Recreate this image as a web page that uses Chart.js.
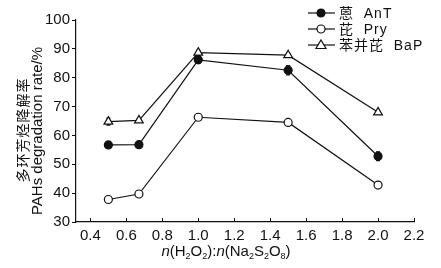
<!DOCTYPE html>
<html>
<head>
<meta charset="utf-8">
<script src="https://cdn.jsdelivr.net/npm/chart.js@4.4.1/dist/chart.umd.min.js"></script>
<style>
  html, body { margin: 0; padding: 0; background: #fff; }
  #wrap { position: relative; width: 441px; height: 268px; }
</style>
</head>
<body>
<div id="wrap"><canvas id="myChart"></canvas></div>
<script>
// n(H2O2):n(Na2S2O8) ratios
const ratios = [0.5, 0.67, 1.0, 1.5, 2.0];

// degradation rate (%)
const antValues = [56.7, 56.8, 86.2, 82.6, 52.8];
const pryValues = [37.8, 39.7, 66.3, 64.5, 42.8];
const bapValues = [64.8, 65.2, 88.7, 87.8, 68.0];

// error bar half-heights
const antErr = [0.8, 0.8, 1.2, 1.6, 1.5];
const pryErr = [0.5, 0.6, 0.6, 0.6, 0.5];
const bapErr = [1.2, 0.6, 0.8, 0.6, 0.6];

const seriesLabels = ["蒽 AnT", "芘 Pry", "苯并芘 BaP"];
const xTicks = [0.4, 0.6, 0.8, 1.0, 1.2, 1.4, 1.6, 1.8, 2.0, 2.2];
const yTicks = [30, 40, 50, 60, 70, 80, 90, 100];

const FONT = "'Liberation Sans', Arial, 'Noto Sans CJK SC', sans-serif";
const INK = "#111";

const toPoints = (vals) => ratios.map((x, i) => ({ x: x, y: vals[i] }));

const errors = [antErr, pryErr, bapErr];

// small vertical error bars
const errorBars = {
  id: "errorBars",
  beforeDatasetsDraw(chart) {
    const { ctx, scales } = chart;
    ctx.save();
    ctx.strokeStyle = INK;
    ctx.lineWidth = 1.2;
    chart.data.datasets.forEach((ds, di) => {
      ds.data.forEach((p, i) => {
        const e = errors[di][i];
        const x = scales.x.getPixelForValue(p.x);
        const y1 = scales.y.getPixelForValue(p.y - e);
        const y2 = scales.y.getPixelForValue(p.y + e);
        ctx.beginPath();
        ctx.moveTo(x, y1); ctx.lineTo(x, y2);
        ctx.moveTo(x - 2, y1); ctx.lineTo(x + 2, y1);
        ctx.moveTo(x - 2, y2); ctx.lineTo(x + 2, y2);
        ctx.stroke();
      });
    });
    ctx.restore();
  },
};

function drawMarker(ctx, style, x, y, filled) {
  ctx.beginPath();
  if (style === "triangle") {
    ctx.moveTo(x, y - 5);
    ctx.lineTo(x + 5, y + 3.5);
    ctx.lineTo(x - 5, y + 3.5);
    ctx.closePath();
  } else {
    ctx.arc(x, y, 4, 0, Math.PI * 2);
  }
  ctx.fillStyle = filled ? INK : "#fff";
  ctx.fill();
  ctx.stroke();
}

// legend, axis titles and inward x ticks
const decorations = {
  id: "decorations",
  afterDraw(chart) {
    const { ctx, scales, chartArea } = chart;
    ctx.save();
    ctx.strokeStyle = INK;
    ctx.fillStyle = INK;
    ctx.lineWidth = 1;

    // inward ticks on x axis
    scales.x.ticks.forEach((t) => {
      const px = Math.round(scales.x.getPixelForValue(t.value)) + 0.5;
      ctx.beginPath();
      ctx.moveTo(px, chartArea.bottom);
      ctx.lineTo(px, chartArea.bottom - 4);
      ctx.stroke();
    });

    // legend
    const rows = [13, 29, 45];
    chart.data.datasets.forEach((ds, i) => {
      const y = rows[i];
      ctx.strokeStyle = INK;
      ctx.lineWidth = 1.2;
      ctx.beginPath();
      ctx.moveTo(308, y);
      ctx.lineTo(335, y);
      ctx.stroke();
      drawMarker(ctx, ds.pointStyle, 321, y, ds.pointBackgroundColor === INK);
      ctx.fillStyle = INK;
      ctx.font = "14px " + FONT;
      ctx.letterSpacing = "1px";
      ctx.textAlign = "left";
      ctx.textBaseline = "middle";
      ctx.fillText(ds.label.replace(" ", "  "), 339, y + 1);
      ctx.letterSpacing = "0px";
    });

    // y axis title (two lines)
    ctx.save();
    ctx.translate(23, 130);
    ctx.rotate(-Math.PI / 2);
    ctx.textAlign = "center";
    ctx.textBaseline = "middle";
    ctx.font = "14px 'Noto Sans CJK SC', sans-serif";
    ctx.letterSpacing = "1px";
    ctx.fillText("多环芳烃降解率", 0, 0);
    ctx.restore();

    ctx.save();
    ctx.translate(38, 131);
    ctx.rotate(-Math.PI / 2);
    ctx.textAlign = "center";
    ctx.textBaseline = "middle";
    ctx.font = "15px " + FONT;
    ctx.fillText("PAHs degradation rate/%", 0, 0);
    ctx.restore();

    // x axis title with italic n and subscripts
    const parts = [
      ["n", "i"], ["(H", ""], ["2", "s"], ["O", ""], ["2", "s"], ["):", ""],
      ["n", "i"], ["(Na", ""], ["2", "s"], ["S", ""], ["2", "s"], ["O", ""], ["8", "s"], [")", ""],
    ];
    const fontFor = (k) =>
      k === "i" ? "italic 15px " + FONT : k === "s" ? "9px " + FONT : "15px " + FONT;
    let total = 0;
    parts.forEach(([t, k]) => { ctx.font = fontFor(k); total += ctx.measureText(t).width; });
    let cx = 226 - total / 2;
    const base = 256;
    ctx.textAlign = "left";
    ctx.textBaseline = "alphabetic";
    parts.forEach(([t, k]) => {
      ctx.font = fontFor(k);
      ctx.fillText(t, cx, k === "s" ? base + 3 : base);
      cx += ctx.measureText(t).width;
    });

    ctx.restore();
  },
};

const makeSet = (label, vals, style, fill) => ({
  label: label,
  data: toPoints(vals),
  borderColor: INK,
  borderWidth: 1.2,
  pointStyle: style,
  pointRadius: style === "triangle" ? 5 : 4,
  pointBackgroundColor: fill,
  pointBorderColor: INK,
  pointBorderWidth: 1.2,
  tension: 0,
  fill: false,
});

const ctx = document.getElementById("myChart").getContext("2d");
new Chart(ctx, {
  type: "line",
  data: {
    datasets: [
      makeSet(seriesLabels[0], antValues, "circle", INK),
      makeSet(seriesLabels[1], pryValues, "circle", "#fff"),
      makeSet(seriesLabels[2], bapValues, "triangle", "#fff"),
    ],
  },
  options: {
    responsive: true,
    maintainAspectRatio: false,
    animation: false,
    layout: { padding: { top: 20, right: 27, bottom: 0, left: 0 } },
    plugins: {
      legend: { display: false },
      tooltip: { enabled: false },
    },
    scales: {
      x: {
        type: "linear",
        min: 0.32,
        max: 2.2,
        afterBuildTicks: (scale) => { scale.ticks = xTicks.map((v) => ({ value: v })); },
        afterFit: (scale) => { scale.height = 46; },
        grid: { drawOnChartArea: false, drawTicks: false },
        border: { display: true, color: INK, width: 1.2 },
        ticks: {
          color: INK,
          padding: 5,
          maxRotation: 0,
          autoSkip: false,
          font: { family: FONT, size: 15 },
          callback: (v) => Number(v).toFixed(1),
        },
      },
      y: {
        min: 30,
        max: 100,
        afterBuildTicks: (scale) => { scale.ticks = yTicks.map((v) => ({ value: v })); },
        afterFit: (scale) => { scale.width = 76; },
        grid: { drawOnChartArea: false, drawTicks: true, tickLength: 4, color: INK },
        border: { display: true, color: INK, width: 1.2 },
        ticks: {
          color: INK,
          padding: 2,
          autoSkip: false,
          font: { family: FONT, size: 15 },
        },
      },
    },
  },
  plugins: [errorBars, decorations],
});
</script>
</body>
</html>
